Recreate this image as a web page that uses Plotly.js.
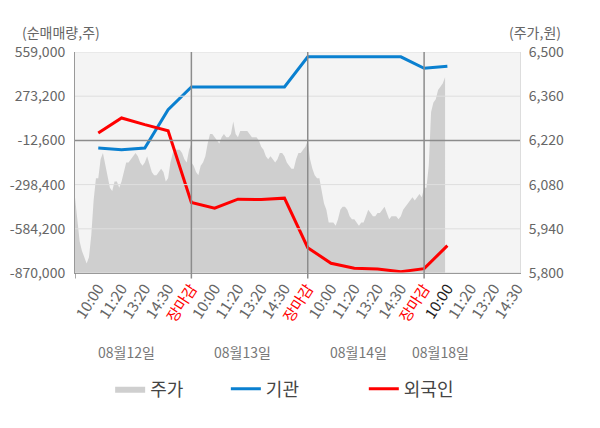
<!DOCTYPE html>
<html>
<head>
<meta charset="utf-8">
<script src="https://cdn.plot.ly/plotly-3.0.1.min.js"></script>
<style>
html, body { margin: 0; padding: 0; background: #fff; }
#chart { width: 600px; height: 428px; }
</style>
</head>
<body>
<div id="chart"></div>
<script>
var dates = ['08월12일', '08월13일', '08월14일', '08월18일'];
var sessionTimes = ['10:00', '11:20', '13:20', '14:30', '장마감'];

// net buying (shares), one point per session tick
var institution = [-61900, -72900, -61900, 186300, 333400, 333400, 333400, 333400, 333400,
  527900, 527900, 527900, 527900, 527900, 454000, 467000];
var foreign = [35300, 132500, 89100, 50200, -414400, -450700, -392400, -395000, -386000,
  -706100, -807200, -839600, -844000, -861600, -842000, -693000];

// intraday price (won), sampled evenly through each day
var price0812 = [6040, 5970, 5900, 5870, 5850, 5830, 5850, 5920, 6030, 6100, 6100, 6160, 6180,
  6140, 6100, 6070, 6060, 6090, 6090, 6070, 6090, 6120, 6150, 6150, 6160, 6170, 6180, 6170,
  6150, 6140, 6150, 6170, 6140, 6120, 6110, 6110, 6120, 6130, 6120, 6090, 6100, 6150, 6180,
  6190, 6190, 6190, 6180, 6160, 6150, 6190, 6210];
var price0813 = [6150, 6140, 6120, 6110, 6140, 6150, 6170, 6210, 6240, 6240, 6230, 6220, 6210,
  6230, 6240, 6230, 6230, 6240, 6280, 6240, 6230, 6250, 6250, 6250, 6250, 6240, 6230, 6230,
  6230, 6220, 6200, 6190, 6170, 6160, 6170, 6160, 6150, 6160, 6180, 6180, 6170, 6150, 6140,
  6130, 6130, 6160, 6180, 6180, 6190, 6200, 6220];
var price0814 = [6220, 6160, 6130, 6110, 6100, 6100, 6060, 6020, 6000, 5960, 5960, 5960, 5950,
  5970, 6000, 6010, 6010, 6000, 5980, 5970, 5970, 5960, 5950, 5960, 5960, 5980, 6000, 5990,
  5980, 5980, 5990, 5990, 6000, 6010, 5990, 5970, 5980, 5980, 5980, 5970, 5980, 6000, 6010,
  6020, 6030, 6040, 6030, 6040, 6050, 6040];
var price0818 = [6070, 6070, 6140, 6310, 6340, 6350, 6380, 6390, 6400, 6420];

var netTicks = [-870000, -584200, -298400, -12600, 273200, 559000];
var priceTicks = [5800, 5940, 6080, 6220, 6360, 6500];

// 5 axis units per trading day
var dayPrices = [price0812, price0813, price0814, price0818];
var px = [], py = [];
dayPrices.forEach(function(arr, d) {
  arr.forEach(function(v, i) {
    px.push(d * 5 + i * 0.1);
    py.push(v);
  });
});

var tickVals = [], tickText = [];
dates.forEach(function(dt, d) {
  sessionTimes.forEach(function(t, j) {
    if (d == 3 && j == 4) return;
    tickVals.push(d * 5 + j + 1);
    if (j == 4) tickText.push('<span style="color:#ff0000">' + t + '</span>');
    else if (d == 3 && j == 0) tickText.push('<span style="color:#222">' + t + '</span>');
    else tickText.push(t);
  });
});

var lineX = institution.map(function(v, i) { return i + 1; });

var trace1 = {
  x: px, y: py, name: '주가', type: 'scatter', mode: 'lines',
  fill: 'tozeroy', fillcolor: '#cfcfcf', line: {width: 0, color: '#cfcfcf'},
  yaxis: 'y', legend: 'legend'
};
var trace2 = {
  x: lineX, y: institution, name: '기관', type: 'scatter', mode: 'lines',
  line: {color: '#0a80d0', width: 3}, yaxis: 'y2', legend: 'legend2'
};
var trace3 = {
  x: lineX, y: foreign, name: '외국인', type: 'scatter', mode: 'lines',
  line: {color: '#ff0000', width: 3}, yaxis: 'y2', legend: 'legend3'
};
var data = [trace1, trace2, trace3];

var shapes = [];
netTicks.forEach(function(v) {
  shapes.push({type: 'line', xref: 'paper', x0: 0, x1: 1, yref: 'y2', y0: v, y1: v,
    layer: 'above', line: {color: v == -12600 ? '#8c8c8c' : '#dedede', width: v == -12600 ? 1.5 : 1}});
});
[0, 5, 10, 15].forEach(function(v) {
  shapes.push({type: 'line', xref: 'x', x0: v, x1: v, yref: 'paper', y0: -0.025, y1: v == 0 ? 0 : 1,
    layer: 'above', line: {color: '#8c8c8c', width: 1.5}});
});

var annotations = [
  {text: '(순매매량,주)', xref: 'paper', yref: 'paper', x: -0.031, y: 1.09, xanchor: 'center',
    yanchor: 'middle', showarrow: false, font: {size: 14, color: '#666'}},
  {text: '(주가,원)', xref: 'paper', yref: 'paper', x: 1.034, y: 1.09, xanchor: 'center',
    yanchor: 'middle', showarrow: false, font: {size: 14, color: '#666'}}
];
dates.forEach(function(dt, d) {
  annotations.push({text: dt, xref: 'x', yref: 'paper', x: d == 3 ? 15.7 : d * 5 + 2.2, y: -0.357,
    xanchor: 'center', yanchor: 'middle', showarrow: false, font: {size: 14, color: '#777'}});
});

function fmt(v) { return v.toLocaleString('en-US'); }

var legendBase = {
  orientation: 'h', xanchor: 'left', y: -0.525, yanchor: 'middle',
  font: {size: 18, color: '#444'}, bgcolor: 'rgba(0,0,0,0)'
};

var layout = {
  width: 600, height: 428,
  margin: {l: 75, r: 80, t: 52, b: 155},
  paper_bgcolor: '#ffffff',
  plot_bgcolor: '#f4f4f4',
  font: {family: '"Noto Sans CJK KR", "Noto Sans", sans-serif', color: '#666'},
  showlegend: true,
  legend: Object.assign({}, legendBase, {x: 0.079}),
  legend2: Object.assign({}, legendBase, {x: 0.339}),
  legend3: Object.assign({}, legendBase, {x: 0.649}),
  xaxis: {
    range: [0, 19.12], tickvals: tickVals, ticktext: tickText, tickangle: -57,
    tickfont: {size: 15, color: '#666'}, showgrid: false, zeroline: false,
    showline: true, linecolor: '#999', ticks: ''
  },
  yaxis: {
    side: 'right', range: [5800, 6500], tickvals: priceTicks, ticktext: priceTicks.map(fmt),
    tickfont: {size: 14, color: '#666'}, showgrid: false, zeroline: false,
    showline: true, linecolor: '#ddd', ticklabelstandoff: 5
  },
  yaxis2: {
    overlaying: 'y', side: 'left', range: [-870000, 559000], tickvals: netTicks,
    ticktext: netTicks.map(fmt), tickfont: {size: 14, color: '#666'},
    showgrid: false, zeroline: false, showline: true, linecolor: '#999', ticklabelstandoff: 6
  },
  shapes: shapes,
  annotations: annotations
};

Plotly.newPlot('chart', data, layout, {displayModeBar: false, staticPlot: true});
</script>
</body>
</html>
